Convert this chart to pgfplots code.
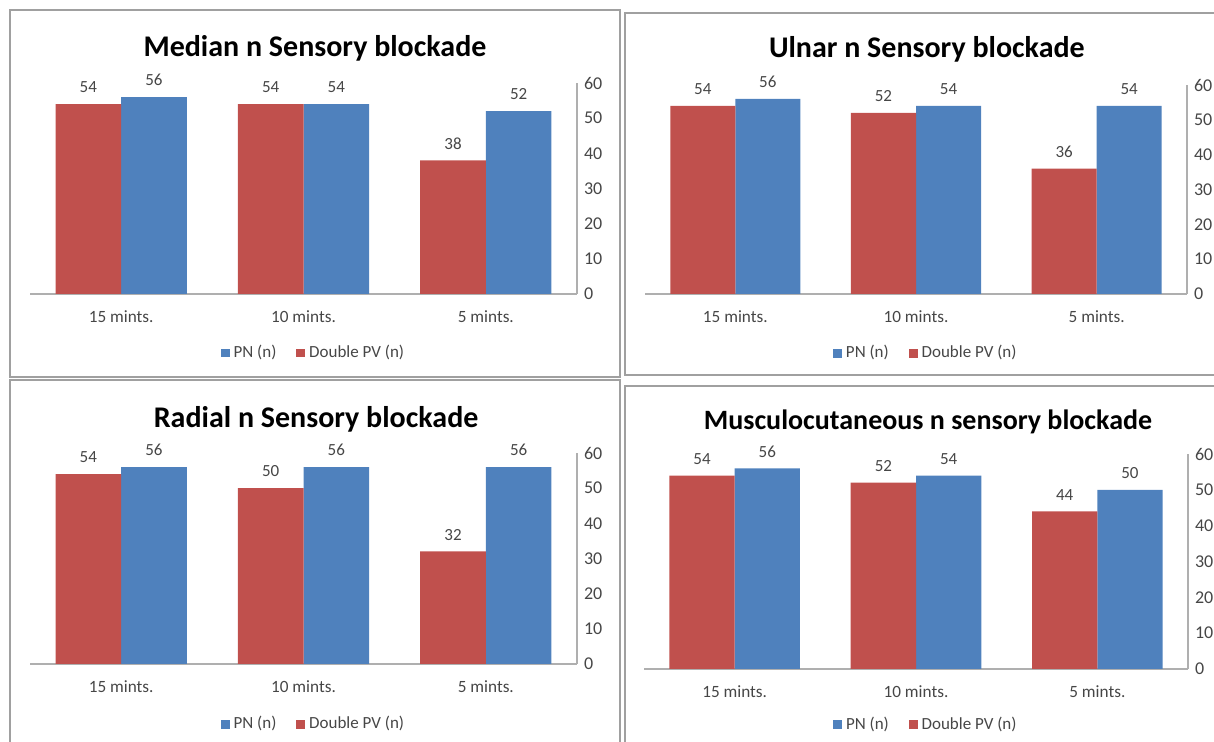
\documentclass[border=0pt]{standalone}
\usepackage{pgfplots}
\pgfplotsset{compat=1.18}
\usepackage{fontspec}
\setmainfont{Carlito}
\definecolor{exred}{RGB}{192,80,77}
\definecolor{exblue}{RGB}{79,129,189}
\definecolor{axgray}{RGB}{175,175,175}
\definecolor{framegray}{RGB}{160,160,160}
\definecolor{txtgray}{RGB}{70,70,70}
\pgfplotsset{
  sqlegend/.style={legend image code/.code={\fill[##1] (0pt,-2.2pt) rectangle (4.4pt,2.2pt);}},
  panel/.style={
    scale only axis,
    ybar, bar width=0.36,
    xmin=-0.5, xmax=2.5, ymin=0, ymax=60,
    enlargelimits=false,
    xtick={0,1,2}, xticklabels={15 mints., 10 mints., 5 mints.},
    ytick={0,10,...,60},
    axis x line*=bottom, axis y line*=right,
    axis line style={axgray, line width=0.8pt, -},
    major tick length=0pt,
    tick label style={font=\fontsize{9}{10}\selectfont, text=txtgray},
    xticklabel style={yshift=-5pt, font=\fontsize{8.6}{10}\selectfont},
    /pgf/number format/assume math mode=true,
    nodes near coords,
    nodes near coords style={font=\fontsize{8.5}{10}\selectfont, text=txtgray, yshift=2pt},
    clip=false,
    sqlegend,
    legend style={draw=none, fill=none, legend columns=-1, anchor=center,
      font=\fontsize{8.5}{10}\selectfont, text=txtgray,
      /tikz/every even column/.append style={column sep=8pt}},
    title style={font=\fontsize{15}{18}\selectfont\bfseries, anchor=base, yshift=-7.5pt},
  }
}
\begin{document}
\begin{tikzpicture}
\path[use as bounding box] (0pt,0pt) rectangle (607pt,371pt);
% panel frames
\draw[framegray, line width=1.2pt] (5pt,182.5pt) rectangle (310pt,366pt);
\draw[framegray, line width=1.2pt] (312.5pt,183.5pt) rectangle (620pt,364.5pt);
\draw[framegray, line width=1.2pt] (5pt,181pt) rectangle (310pt,-9pt);
\draw[framegray, line width=1.2pt] (312.5pt,178pt) rectangle (620pt,-9pt);

% Median
\begin{axis}[panel, at={(15pt,224pt)}, anchor=south west, width=273.5pt, height=105.5pt,
  title={Median n Sensory blockade}, title style={at={(axis description cs:0.521,1.142)}},
  legend style={at={(axis description cs:0.52,-0.28)}}]
\addplot[fill=exblue, draw=none, bar shift=0.18] coordinates {(0,56) (1,54) (2,52)};
\addplot[fill=exred, draw=none, bar shift=-0.18] coordinates {(0,54) (1,54) (2,38)};
\legend{PN (n), Double PV (n)}
\end{axis}

% Ulnar
\begin{axis}[panel, at={(322.5pt,224pt)}, anchor=south west, width=271pt, height=104.5pt,
  title={Ulnar n Sensory blockade}, title style={at={(axis description cs:0.52,1.144)}},
  legend style={at={(axis description cs:0.52,-0.283)}}]
\addplot[fill=exblue, draw=none, bar shift=0.18] coordinates {(0,56) (1,54) (2,54)};
\addplot[fill=exred, draw=none, bar shift=-0.18] coordinates {(0,54) (1,52) (2,36)};
\legend{PN (n), Double PV (n)}
\end{axis}

% Radial
\begin{axis}[panel, at={(15pt,39pt)}, anchor=south west, width=273.5pt, height=105.5pt,
  title={Radial n Sensory blockade}, title style={at={(axis description cs:0.523,1.137)}},
  legend style={at={(axis description cs:0.52,-0.285)}}]
\addplot[fill=exblue, draw=none, bar shift=0.18] coordinates {(0,56) (1,56) (2,56)};
\addplot[fill=exred, draw=none, bar shift=-0.18] coordinates {(0,54) (1,50) (2,32)};
\legend{PN (n), Double PV (n)}
\end{axis}

% Musculocutaneous
\begin{axis}[panel, at={(322pt,36.5pt)}, anchor=south west, width=272pt, height=107.5pt,
  title={Musculocutaneous n sensory blockade}, title style={at={(axis description cs:0.522,1.126)}, font=\fontsize{14}{17}\selectfont\bfseries},
  legend style={at={(axis description cs:0.52,-0.26)}}]
\addplot[fill=exblue, draw=none, bar shift=0.18] coordinates {(0,56) (1,54) (2,50)};
\addplot[fill=exred, draw=none, bar shift=-0.18] coordinates {(0,54) (1,52) (2,44)};
\legend{PN (n), Double PV (n)}
\end{axis}
\end{tikzpicture}
\end{document}
